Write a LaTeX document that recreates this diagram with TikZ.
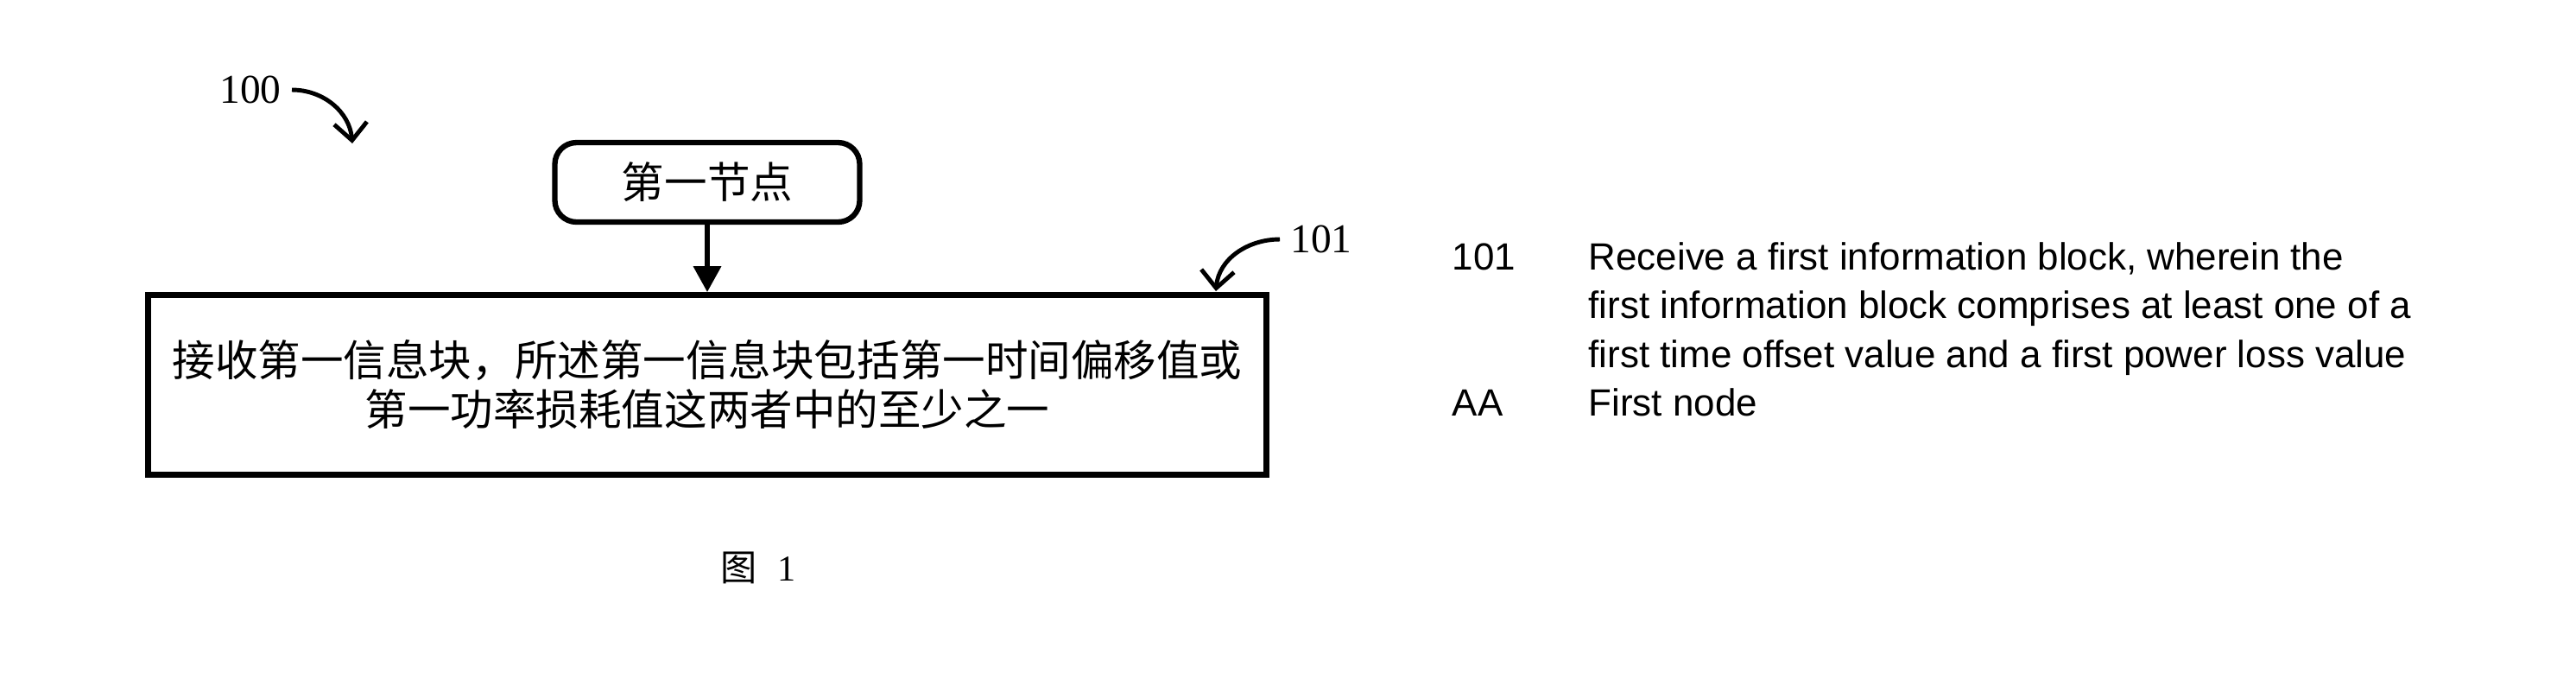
\documentclass[tikz,border=0pt]{standalone}
\usepackage{fontspec}
\setmainfont{Liberation Serif}
\newfontfamily\cjk{Noto Sans CJK SC}
\newfontfamily\legendfont{Liberation Sans}
\usetikzlibrary{positioning, arrows.meta}

\begin{document}
\begin{tikzpicture}[
        node distance=0.78cm and 1cm,
        box/.style={draw, line width=1.8pt, align=center, font=\cjk\fontsize{14.1}{16.2}\selectfont},
        nodebox/.style={box, rounded corners=0.25cm, minimum width=3.53cm, minimum height=0.92cm},
        stepbox/.style={box, minimum width=12.95cm, minimum height=2.08cm},
        refnum/.style={font=\fontsize{13.5}{16}\selectfont},
        legend/.style={anchor=base west, inner sep=0pt, font=\legendfont\fontsize{12.5}{16}\selectfont},
        callout/.style={line width=1.4pt, -{Straight Barb[length=2mm,width=3.8mm]}},
        flow/.style={line width=1.8pt, -{Triangle[length=3mm,width=3.1mm]}}
    ]
    \useasboundingbox (0,0) rectangle (29.83,-7.78);

    % Nodes
    \node (first) [nodebox] at (8.19,-2.11) {第一节点};
    \node (recv) [stepbox, below=of first] {接收第一信息块，所述第一信息块包括第一时间偏移值或\\第一功率损耗值这两者中的至少之一};

    \node (lbl100) [refnum] at (2.90,-1.04) {100};
    \node (lbl101) [refnum] at (15.30,-2.77) {101};
    \coordinate (tip100) at (4.08,-1.66);
    \coordinate (tip101) at (14.08,-3.37);

    \node (fig) [refnum, font=\fontsize{12}{14}\selectfont] at (8.78,-6.57) {{\cjk 图}\hspace{0.55em}1};

    % Legend
    \node (key101) [legend] at (16.81,-3.12) {101};
    \node (keyAA) [legend] at (16.81,-4.81) {AA};
    \node (desc1a) [legend] at (18.39,-3.12) {Receive a first information block, wherein the};
    \node (desc1b) [legend] at (18.39,-3.685) {first information block comprises at least one of a};
    \node (desc1c) [legend] at (18.39,-4.25) {first time offset value and a first power loss value};
    \node (descAA) [legend] at (18.39,-4.81) {First node};

    % Arrows
    \draw[flow] (first) -- (recv);
    \draw[callout] (lbl100.east) to[out=0, in=95] (tip100);
    \draw[callout] (lbl101.west) to[out=180, in=85] (tip101);

\end{tikzpicture}
\end{document}
